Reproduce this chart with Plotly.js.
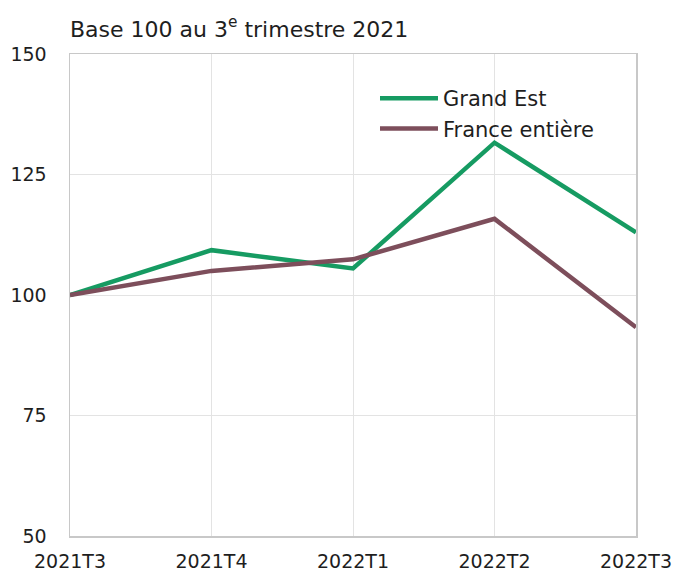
<!DOCTYPE html>
<html>
<head>
<meta charset="utf-8">
<script src="https://cdn.plot.ly/plotly-3.0.1.min.js"></script>
<style>html,body{margin:0;padding:0;background:#fff;}#chart{width:677px;height:572px;}</style>
</head>
<body>
<div id="chart"></div>
<script>
var categories = ["2021T3", "2021T4", "2022T1", "2022T2", "2022T3"];
var grandEst = [100, 109.3, 105.5, 131.6, 113.0];
var franceEntiere = [100, 105.0, 107.4, 115.8, 93.3];
var yTicks = [50, 75, 100, 125, 150];

var traces = [
  {x: categories, y: grandEst, name: "Grand Est", type: "scatter", mode: "lines",
   line: {color: "#169B62", width: 4.5}},
  {x: categories, y: franceEntiere, name: "France entière", type: "scatter", mode: "lines",
   line: {color: "#7D4E5B", width: 4.5}}
];

var fontFam = "'DejaVu Sans', sans-serif";
var layout = {
  width: 677, height: 572,
  margin: {l: 70, r: 41, t: 54, b: 36, autoexpand: false},
  paper_bgcolor: "#fff", plot_bgcolor: "#fff",
  font: {family: fontFam, size: 19, color: "#1e1e1e"},
  title: {text: "Base 100 au 3<sup>e</sup> trimestre 2021", x: 0, xanchor: "left", xref: "paper",
          y: 1 - 29/572, yanchor: "middle", yref: "container", font: {size: 22, color: "#1e1e1e"}},
  xaxis: {type: "category", range: [0, 4], showgrid: true, gridcolor: "#e3e3e3", gridwidth: 1,
          showline: true, linecolor: "#c8c8c8", linewidth: 1.5, mirror: true, ticks: "", zeroline: false,
          tickfont: {size: 19}, ticklabelstandoff: 8, fixedrange: true},
  yaxis: {range: [50, 150], tickvals: yTicks, showgrid: true, gridcolor: "#e3e3e3", gridwidth: 1,
          showline: true, linecolor: "#c8c8c8", linewidth: 1.5, mirror: true, ticks: "outside",
          ticklen: 18, tickcolor: "rgba(0,0,0,0)", zeroline: false, tickfont: {size: 19}},
  showlegend: true,
  legend: {x: (375 - 70) / 566, xanchor: "left", y: (536 - 78) / 482, yanchor: "top",
           bgcolor: "rgba(0,0,0,0)", font: {size: 21}, itemwidth: 58, tracegroupgap: 0}
};
Plotly.newPlot("chart", traces, layout, {displayModeBar: false, staticPlot: true});
</script>
</body>
</html>
